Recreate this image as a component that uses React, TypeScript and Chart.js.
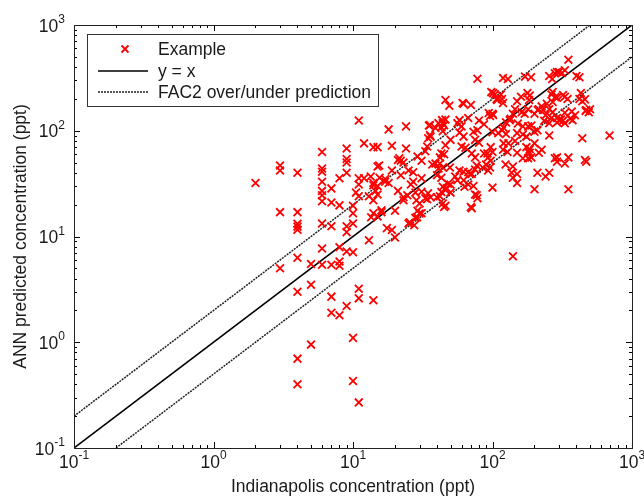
import React, { useEffect, useRef } from "react";
import { Chart, registerables } from "chart.js";

Chart.register(...registerables);

// ---- data (x = Indianapolis concentration, y = ANN predicted), ppt ----
const lowRangePoints: [number, number][] = [
  [2, 32], [3, 47], [3, 42], [3, 17], [3, 5],
  [4, 40], [4, 17], [4, 13.2], [4, 12.4], [4, 11.6], [4, 6.3], [4, 3], [4, 0.7], [4, 0.4],
  [5, 5.5], [5, 3.5], [5, 0.95],
  [6, 63], [6, 44], [6, 41], [6, 33], [6, 27], [6, 24.5], [6, 21.5], [6, 13.3], [6, 7.7], [6, 5.4],
  [7, 28.5], [7, 21], [7, 12.5], [7, 5.4], [7, 2.7], [7, 1.9],
  [8, 35.5], [8, 19.7], [8, 7.9], [8, 5.8], [8, 5.3], [8, 1.8],
  [9, 68], [9, 54], [9, 50], [9, 40], [9, 12.5], [9, 11], [9, 7.2], [9, 2.2],
  [10, 19.5], [10, 16.6], [10, 13.3], [10, 7.1], [10, 1.1], [10, 0.43],
  [11, 125], [11, 35.5], [11, 31], [11, 3.2], [11, 2.6], [11, 0.27],
  [12, 76], [12, 35.5], [13, 9.2], [13, 24], [14, 2.5], [10.5, 26], [11, 24],
];

const midRangePoints: [number, number][] = [
  [14, 70], [15, 70], [18, 103], [24, 110], [19, 72], [24, 68], [21, 53], [22, 52], [19, 42],
  [17, 35], [18, 32], [15, 46], [13.4, 37], [15.5, 36], [14, 32], [15, 30], [14.5, 27], [15, 25],
  [14, 22], [14, 16.6], [15, 15.5], [16, 17], [13.5, 15.2], [17.5, 12], [19, 11.5], [20, 9.8],
  [20, 17.5], [22, 38], [25, 42], [21, 27], [23, 22], [26, 31], [27, 33], [29, 57], [31, 52],
  [34, 71], [33, 64], [35, 112], [36, 88], [39, 106], [41, 118], [43, 108], [46, 195], [49, 172],
  [46, 128], [44, 118], [37, 48], [39, 49], [41, 44], [40, 38], [43, 61], [42, 56], [46, 73],
  [50, 82], [28, 26], [31, 26.5], [34, 22.5], [36, 23.5], [29, 17.5], [30, 16.5], [28, 15],
  [25, 13.3], [44, 29.5], [46, 27.5], [42, 24], [44, 20.5], [46, 19.5], [50, 31], [50, 26],
  [54, 37], [58, 42], [35.6, 113], [35.6, 91], [43.5, 126], [45, 113], [44, 99], [34.6, 85],
  [58, 126], [28.8, 15.2], [31, 16.6], [15.4, 47], [21.5, 55], [23, 50], [27, 40.5], [31, 35.6],
  [42, 49], [44, 45], [45, 60], [49.5, 45], [43, 36], [14, 30.5], [17, 33], [23, 23.5],
  [24.5, 24.5], [28.5, 22], [30, 20.5], [33, 23], [34.5, 25.6], [40, 23.5], [43, 26.3],
  [47, 28.6], [48, 31.6], [45, 19], [56, 34], [16, 17.7], [25.5, 13.6], [27.5, 12.8],
];

const highRangePoints: [number, number][] = [
  [62, 41], [62, 34], [67, 31], [73, 30], [69, 39], [75, 43], [75, 25], [78, 23], [70, 19],
  [60, 71], [64, 69], [58, 96], [62, 88], [56, 118], [60, 110], [62, 180], [70, 175], [67, 132],
  [73, 98], [78, 101], [75, 82], [80, 77], [71, 61], [75, 56], [87, 61], [93, 56], [90, 48],
  [97, 52], [85, 45], [93, 42], [97, 70], [100, 63], [100, 145], [96, 138], [104, 220], [115, 220],
  [107, 200], [117, 200], [78, 310], [80, 125], [87, 115], [100, 29], [140, 36], [150, 32],
  [140, 6.5], [137, 40], [150, 39], [124, 48], [140, 46], [165, 55], [150, 62], [185, 62],
  [180, 55], [175, 70], [200, 28], [210, 40], [240, 37], [255, 40], [280, 55], [290, 51],
  [330, 49], [350, 28], [470, 51], [440, 85], [690, 90], [500, 160], [470, 157], [420, 320],
  [420, 200], [440, 190], [350, 470], [330, 210], [345, 200], [280, 350], [300, 360], [255, 330],
  [265, 220], [290, 205], [225, 170], [245, 180], [255, 160], [270, 150], [240, 140], [265, 132],
  [290, 132], [310, 128], [215, 160], [200, 145], [180, 160], [170, 145], [160, 210], [185, 215],
  [150, 190], [145, 160], [140, 145], [135, 130], [125, 120], [120, 107], [110, 95], [125, 93],
  [120, 76], [130, 76], [150, 95], [165, 92], [175, 88], [180, 110], [190, 112], [200, 98],
  [210, 101], [165, 110], [145, 80], [200, 76], [185, 67], [215, 62], [225, 66], [255, 90],
  [330, 148], [370, 152], [390, 140], [290, 120], [320, 124], [235, 124], [255, 118], [119, 315],
  [129, 308], [171, 325], [189, 320], [268, 308], [400, 330], [101, 227], [108, 195], [178, 227],
  [183, 195], [94, 147], [101, 141], [211, 157], [230, 157], [270, 187], [282, 208], [302, 126],
  [330, 118], [430, 227], [465, 154], [460, 53], [67, 40.5], [71, 39], [77, 47], [92, 61],
  [96, 45], [77, 24.5], [71, 18.5], [63, 29.5], [290, 359], [315, 351], [330, 374], [460, 198],
  [490, 150], [98, 232], [119, 183], [270, 232], [320, 218], [162, 150], [360, 130], [375, 126],
  [133, 126], [152, 117], [117, 101], [100, 97], [290, 56], [350, 56], [180, 63], [190, 56],
  [119, 66], [128, 63], [61, 183],
];

const identityLine: [number, number][] = [[0.1, 0.1], [1000, 1000]];
const fac2Over: [number, number][] = [[0.1, 0.2], [500, 1000]];
const fac2Under: [number, number][] = [[0.2, 0.1], [1000, 500]];

const tickValues = [0.1, 1, 10, 100, 1000];
const tickExponents = ["-1", "0", "1", "2", "3"];
const xTitle = "Indianapolis concentration (ppt)";
const yTitle = "ANN predicted concentration (ppt)";
const legendLabels = ["Example", "y = x", "FAC2 over/under prediction"];

const FONT = '"Liberation Sans", Arial, Helvetica, sans-serif';
const RED = "#ff0000";
const DOT_COLOR = "#222222";
const DOT_DASH = [2, 1];

const toXY = (arr: [number, number][]) => arr.map(([x, y]) => ({ x, y }));

const decorPlugin = {
  id: "decor",
  afterDraw(chart: any) {
    const { ctx, chartArea: a } = chart;
    const xs = chart.scales.x;
    const ys = chart.scales.y;
    ctx.save();

    // inward ticks on all sides
    ctx.strokeStyle = "#000";
    ctx.lineWidth = 1;
    ctx.beginPath();
    for (let d = 0; d < tickValues.length; d++) {
      const base = tickValues[d];
      const maxM = d === tickValues.length - 1 ? 1 : 9;
      for (let m = 1; m <= maxM; m++) {
        const v = base * m;
        const L = m === 1 ? 6 : 3;
        const px = Math.round(xs.getPixelForValue(v)) + 0.5;
        ctx.moveTo(px, a.bottom);
        ctx.lineTo(px, a.bottom - L);
        ctx.moveTo(px, a.top);
        ctx.lineTo(px, a.top + L);
        const py = Math.round(ys.getPixelForValue(v)) + 0.5;
        ctx.moveTo(a.left, py);
        ctx.lineTo(a.left + L, py);
        ctx.moveTo(a.right, py);
        ctx.lineTo(a.right - L, py);
      }
    }
    ctx.stroke();

    // box
    ctx.strokeStyle = "#222";
    ctx.strokeRect(Math.round(a.left) + 0.5, Math.round(a.top) + 0.5,
      Math.round(a.right - a.left), Math.round(a.bottom - a.top));

    // tick labels with exponents
    ctx.fillStyle = "#1a1a1a";
    ctx.textBaseline = "alphabetic";
    const baseFont = `17.5px ${FONT}`;
    const expFont = `12px ${FONT}`;
    tickValues.forEach((v, i) => {
      ctx.font = baseFont;
      const w10 = ctx.measureText("10").width;
      ctx.font = expFont;
      const we = ctx.measureText(tickExponents[i]).width;
      // x axis
      const px = xs.getPixelForValue(v);
      const sx = px - (w10 + we) / 2;
      ctx.font = baseFont;
      ctx.textAlign = "left";
      ctx.fillText("10", sx, a.bottom + 20);
      ctx.font = expFont;
      ctx.fillText(tickExponents[i], sx + w10, a.bottom + 11);
      // y axis
      const py = ys.getPixelForValue(v);
      const ex = a.left - 9;
      ctx.font = expFont;
      ctx.fillText(tickExponents[i], ex - we, py - 2);
      ctx.font = baseFont;
      ctx.fillText("10", ex - we - w10, py + 6.5);
    });

    // axis titles
    ctx.font = `17.5px ${FONT}`;
    ctx.textAlign = "center";
    ctx.textBaseline = "middle";
    ctx.fillText(xTitle, (a.left + a.right) / 2, 487);
    ctx.save();
    ctx.translate(21, (a.top + a.bottom) / 2);
    ctx.rotate(-Math.PI / 2);
    ctx.fillText(yTitle, 0, 0);
    ctx.restore();

    // legend box
    const bx = 87.5, by = 34.5, bw = 291, bh = 72;
    ctx.fillStyle = "#fff";
    ctx.fillRect(bx, by, bw, bh);
    ctx.strokeStyle = "#333";
    ctx.lineWidth = 1;
    ctx.strokeRect(bx, by, bw, bh);
    const rows = [49, 71, 92];
    // marker
    ctx.strokeStyle = RED;
    ctx.lineWidth = 1.8;
    ctx.beginPath();
    ctx.moveTo(125 - 3.5, rows[0] - 3.5);
    ctx.lineTo(125 + 3.5, rows[0] + 3.5);
    ctx.moveTo(125 + 3.5, rows[0] - 3.5);
    ctx.lineTo(125 - 3.5, rows[0] + 3.5);
    ctx.stroke();
    // solid line
    ctx.strokeStyle = "#000";
    ctx.lineWidth = 1.5;
    ctx.beginPath();
    ctx.moveTo(98, rows[1]);
    ctx.lineTo(148, rows[1]);
    ctx.stroke();
    // dotted line
    ctx.strokeStyle = DOT_COLOR;
    ctx.setLineDash(DOT_DASH);
    ctx.beginPath();
    ctx.moveTo(98, rows[2]);
    ctx.lineTo(148, rows[2]);
    ctx.stroke();
    ctx.setLineDash([]);
    ctx.fillStyle = "#1a1a1a";
    ctx.font = `17.5px ${FONT}`;
    ctx.textAlign = "left";
    ctx.textBaseline = "middle";
    legendLabels.forEach((t, i) => ctx.fillText(t, 158, rows[i] + 1));

    ctx.restore();
  },
};

export default function App() {
  const ref = useRef<HTMLCanvasElement | null>(null);

  useEffect(() => {
    if (!ref.current) return;
    const scatterData = toXY([...lowRangePoints, ...midRangePoints, ...highRangePoints]);
    const chart = new Chart(ref.current, {
      type: "scatter",
      data: {
        datasets: [
          {
            label: legendLabels[0],
            data: scatterData,
            pointStyle: "crossRot",
            pointRadius: 5.5,
            pointBorderWidth: 1.8,
            borderColor: RED,
            backgroundColor: RED,
            showLine: false,
          },
          {
            label: legendLabels[1],
            data: toXY(identityLine),
            showLine: true,
            borderColor: "#000",
            borderWidth: 1.6,
            pointRadius: 0,
          },
          {
            label: legendLabels[2],
            data: toXY(fac2Over),
            showLine: true,
            borderColor: DOT_COLOR,
            borderWidth: 1.5,
            borderDash: DOT_DASH,
            pointRadius: 0,
          },
          {
            label: legendLabels[2],
            data: toXY(fac2Under),
            showLine: true,
            borderColor: DOT_COLOR,
            borderWidth: 1.5,
            borderDash: DOT_DASH,
            pointRadius: 0,
          },
        ],
      },
      options: {
        animation: false,
        responsive: true,
        maintainAspectRatio: false,
        layout: { padding: { top: 25, right: 12, left: 0, bottom: 0 } },
        plugins: { legend: { display: false }, tooltip: { enabled: false } },
        scales: {
          x: {
            type: "logarithmic",
            min: 0.1,
            max: 1000,
            ticks: { display: false },
            grid: { display: false },
            border: { display: false },
            afterFit: (s: any) => { s.height = 50; },
          },
          y: {
            type: "logarithmic",
            min: 0.1,
            max: 1000,
            ticks: { display: false },
            grid: { display: false },
            border: { display: false },
            afterFit: (s: any) => { s.width = 74; },
          },
        },
      },
      plugins: [decorPlugin],
    } as any);
    return () => chart.destroy();
  }, []);

  return (
    <div style={{ position: "fixed", left: 0, top: 0, width: 644, height: 498, background: "#fff" }}>
      <canvas ref={ref} />
    </div>
  );
}
